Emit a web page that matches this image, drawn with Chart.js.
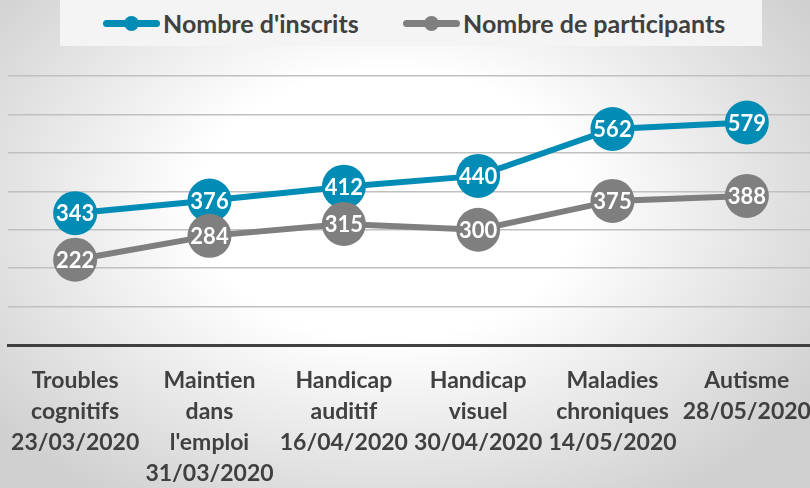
<!DOCTYPE html>
<html>
<head>
<meta charset="utf-8">
<script src="https://cdn.jsdelivr.net/npm/chart.js@4/dist/chart.umd.min.js"></script>
<style>
  html, body { margin: 0; padding: 0; overflow: hidden; }
  #cadre {
    position: relative; width: 810px; height: 488px; overflow: hidden;
    background: radial-gradient(ellipse 62% 72% at 48% 42%, #ffffff 38%, #d0d0d0 100%);
    font-family: Lato, "Noto Sans", sans-serif;
  }
  #legende {
    position: absolute; left: 60px; top: 0; width: 702px; height: 46px;
    background: #f4f4f4; color: #404040; font-weight: bold; font-size: 25px;
  }
  .item { position: absolute; top: 8px; height: 30px; line-height: 30px; white-space: nowrap; }
  .trait { display: inline-block; position: relative; width: 57px; height: 30px; vertical-align: top; margin-right: 3px; }
  .trait i { position: absolute; left: 0; right: 0; top: 12px; height: 7px; border-radius: 4px; }
  .trait b { position: absolute; left: 21px; top: 8px; width: 15px; height: 15px; border-radius: 50%; }
  canvas { position: absolute; left: 0; top: 0; }
</style>
</head>
<body>
<div id="cadre">
  <div id="legende"></div>
  <canvas id="graphique" width="816" height="488"></canvas>
</div>
<script>
// sessions
const categories = [
  ['Troubles', 'cognitifs', '23/03/2020'],
  ['Maintien', 'dans', "l'emploi", '31/03/2020'],
  ['Handicap', 'auditif', '16/04/2020'],
  ['Handicap', 'visuel', '30/04/2020'],
  ['Maladies', 'chroniques', '14/05/2020'],
  ['Autisme', '28/05/2020']
];
const series = ["Nombre d'inscrits", 'Nombre de participants'];
const inscrits = [343, 376, 412, 440, 562, 579];
const participants = [222, 284, 315, 300, 375, 388];
const couleurs = ['#008cb4', '#7f7f7f'];
const yMax = 700;
const yPas = 100;

// legende html
const legende = document.getElementById('legende');
const positions = [43, 343];
series.forEach((nom, i) => {
  const item = document.createElement('div');
  item.className = 'item';
  item.style.left = positions[i] + 'px';
  item.innerHTML = `<span class="trait"><i style="background:${couleurs[i]}"></i><b style="background:${couleurs[i]}"></b></span>${nom}`;
  legende.appendChild(item);
});

// valeurs dans les cercles
const etiquettes = {
  id: 'etiquettes',
  afterDatasetsDraw(chart) {
    const ctx = chart.ctx;
    ctx.save();
    ctx.fillStyle = '#ffffff';
    ctx.font = 'bold 22px Lato, "Noto Sans", sans-serif';
    ctx.textAlign = 'center';
    ctx.textBaseline = 'middle';
    chart.data.datasets.forEach((ds, i) => {
      chart.getDatasetMeta(i).data.forEach((pt, j) => {
        ctx.fillText(ds.data[j], pt.x, pt.y + 1);
      });
    });
    ctx.restore();
  }
};

const ctx = document.getElementById('graphique');
new Chart(ctx, {
  type: 'line',
  data: {
    labels: categories,
    datasets: [{
      label: series[0],
      data: inscrits,
      borderColor: couleurs[0],
      backgroundColor: couleurs[0],
      borderWidth: 6,
      pointRadius: 22,
      pointHoverRadius: 22,
      pointBorderWidth: 0,
      order: 2
    }, {
      label: series[1],
      data: participants,
      borderColor: couleurs[1],
      backgroundColor: couleurs[1],
      borderWidth: 6,
      pointRadius: 22,
      pointHoverRadius: 22,
      pointBorderWidth: 0,
      order: 1
    }]
  },
  options: {
    responsive: false,
    animation: false,
    layout: { autoPadding: false, padding: { top: 76, left: 8, right: 2, bottom: 0 } },
    plugins: { legend: { display: false }, tooltip: { enabled: false } },
    scales: {
      x: {
        offset: true,
        grid: { display: false, drawTicks: false },
        border: { color: '#404040', width: 3 },
        ticks: {
          color: '#404040',
          padding: 20,
          maxRotation: 0,
          autoSkip: false,
          font: { family: 'Lato, "Noto Sans", sans-serif', size: 23, weight: 'bold', lineHeight: '31px' }
        },
        afterFit(scale) {
          scale.paddingLeft = 0;
          scale.paddingRight = 0;
          scale.height = 143;
        }
      },
      y: {
        min: 0,
        max: yMax,
        ticks: { display: false, stepSize: yPas },
        border: { display: false },
        grid: { color: '#c0c0c0', lineWidth: 1.5, drawTicks: false }
      }
    }
  },
  plugins: [etiquettes]
});
</script>
</body>
</html>
